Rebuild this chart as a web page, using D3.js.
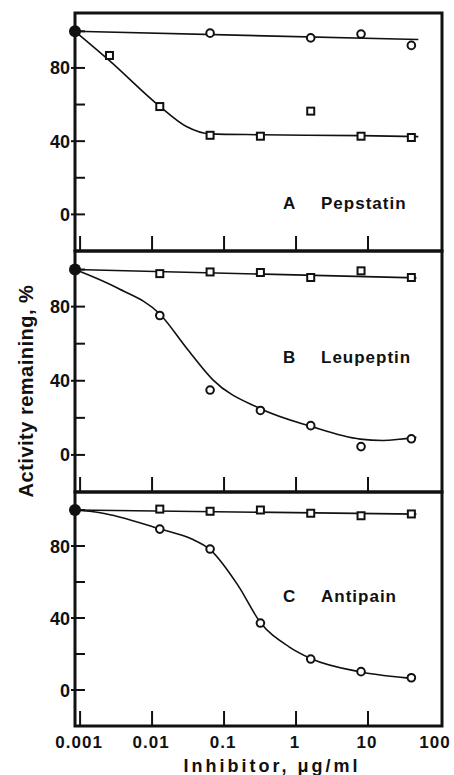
<!DOCTYPE html>
<html>
<head>
<meta charset="utf-8">
<script src="https://cdn.jsdelivr.net/npm/d3@7"></script>
<style>
  body { margin: 0; background: #fff; }
  text { font-family: "Liberation Sans", Arial, sans-serif; font-weight: bold; fill: #111; }
</style>
</head>
<body>
<div id="chart"></div>
<script>
// Chart size
const width = 454;
const height = 775;

// Data
const control = 0.00085; // uninhibited control, drawn on the y axis
const concA = [0.00256, 0.0128, 0.064, 0.32, 1.6, 8, 40];
const conc = [0.0128, 0.064, 0.32, 1.6, 8, 40];

const pepCircleX = [0.064, 1.6, 8, 40];
const pepCircle = [99, 96.4, 98.5, 92.3];
const pepSquare = [86.8, 58.9, 43.2, 42.7, 56.4, 42.7, 42];

const leuSquare = [97.8, 98.7, 98.4, 95.7, 99.3, 95.7];
const leuCircle = [75.2, 35, 24, 15.8, 4.5, 8.7];

const antSquare = [100.5, 99.3, 100, 98.2, 96.8, 97.8];
const antCircle = [89.4, 78.3, 37.2, 17.2, 10.2, 6.8];

// Hand drawn fitted curves
const pepCircleFitX = [control, 50];
const pepCircleFit = [100, 95.5];
const pepSquareFitX = [control, 0.00256, 0.0128, 0.03, 0.064, 0.32, 8, 50];
const pepSquareFit = [100, 84, 59, 48, 44, 43.5, 43, 42.5];

const leuSquareFitX = [control, 47];
const leuSquareFit = [100, 95.5];
const leuCircleFitX = [control, 0.0033, 0.0128, 0.031, 0.07, 0.316, 1.6, 7.8, 16, 47];
const leuCircleFit = [100, 90, 76, 57, 40.5, 25, 15.4, 8.5, 7.8, 9.5];

const antSquareFitX = [control, 47];
const antSquareFit = [100, 97.7];
const antCircleFitX = [control, 0.0019, 0.0128, 0.035, 0.064, 0.157, 0.32, 0.8, 1.6, 8, 45];
const antCircleFit = [100, 98.5, 89.5, 84, 78, 58, 37.5, 24, 17.5, 10, 6.3];

const panelLetters = ["A", "B", "C"];
const panelNames = ["Pepstatin", "Leupeptin", "Antipain"];

const yTicks = [0, 20, 40, 60, 80, 100];
const yLabels = [0, 40, 80];
const xTicks = [0.001, 0.01, 0.1, 1, 10];
const xLabelValues = [0.001, 0.01, 0.1, 1, 10, 100];
const xLabels = ["0.001", "0.01", "0.1", "1", "10", "100"];

const zip = (xs, ys) => xs.map((x, i) => [x, ys[i]]);

const panels = [
  {
    top: 13, bottom: 251, labelY: 209,
    lines: [zip(pepCircleFitX, pepCircleFit), zip(pepSquareFitX, pepSquareFit)],
    circles: zip(pepCircleX, pepCircle),
    squares: zip(concA, pepSquare)
  },
  {
    top: 251, bottom: 492, labelY: 363,
    lines: [zip(leuSquareFitX, leuSquareFit), zip(leuCircleFitX, leuCircleFit)],
    circles: zip(conc, leuCircle),
    squares: zip(conc, leuSquare)
  },
  {
    top: 492, bottom: 726, labelY: 602,
    lines: [zip(antSquareFitX, antSquareFit), zip(antCircleFitX, antCircleFit)],
    circles: zip(conc, antCircle),
    squares: zip(conc, antSquare)
  }
];

const left = 75;
const right = 442;

const svg = d3.select("#chart")
  .append("svg")
  .attr("width", width)
  .attr("height", height);

// Log x scale shared by all panels
const xScale = d3.scaleLog()
  .domain([0.00085, 106.6])
  .range([left, right]);

panels.forEach((p, i) => {
  const yScale = d3.scaleLinear()
    .domain([-20, 110])
    .range([p.bottom, p.top]);

  const g = svg.append("g");

  // y ticks (inward), labelled ones poke out a little
  g.selectAll(".ytick")
    .data(yTicks)
    .enter()
    .append("line")
    .attr("x1", (d) => (yLabels.includes(d) ? left - 4 : left))
    .attr("x2", left + 10)
    .attr("y1", (d) => yScale(d))
    .attr("y2", (d) => yScale(d))
    .attr("stroke", "#111")
    .attr("stroke-width", 2);

  g.selectAll(".ylabel")
    .data(yLabels)
    .enter()
    .append("text")
    .attr("x", left - 5)
    .attr("y", (d) => yScale(d) + 6.5)
    .attr("text-anchor", "end")
    .attr("font-size", 18)
    .text((d) => d);

  // x ticks rise from the panel bottom
  g.selectAll(".xtick")
    .data(xTicks)
    .enter()
    .append("line")
    .attr("x1", (d) => xScale(d))
    .attr("x2", (d) => xScale(d))
    .attr("y1", p.bottom)
    .attr("y2", p.bottom - 15)
    .attr("stroke", "#111")
    .attr("stroke-width", 2);

  // fitted curves
  const line = d3.line()
    .x((d) => xScale(d[0]))
    .y((d) => yScale(d[1]))
    .curve(d3.curveMonotoneX);

  p.lines.forEach((pts) => {
    g.append("path")
      .attr("d", line(pts))
      .attr("fill", "none")
      .attr("stroke", "#111")
      .attr("stroke-width", 1.6);
  });

  // open circles
  g.selectAll(".circle")
    .data(p.circles)
    .enter()
    .append("circle")
    .attr("cx", (d) => xScale(d[0]))
    .attr("cy", (d) => yScale(d[1]))
    .attr("r", 3.8)
    .attr("fill", "#fff")
    .attr("stroke", "#111")
    .attr("stroke-width", 2);

  // open squares
  g.selectAll(".square")
    .data(p.squares)
    .enter()
    .append("rect")
    .attr("x", (d) => xScale(d[0]) - 3.5)
    .attr("y", (d) => yScale(d[1]) - 3.5)
    .attr("width", 7)
    .attr("height", 7)
    .attr("fill", "#fff")
    .attr("stroke", "#111")
    .attr("stroke-width", 2);

  // control point
  g.append("circle")
    .attr("cx", xScale(control))
    .attr("cy", yScale(100))
    .attr("r", 6)
    .attr("fill", "#111");

  // frame
  g.append("rect")
    .attr("x", left)
    .attr("y", p.top)
    .attr("width", right - left)
    .attr("height", p.bottom - p.top)
    .attr("fill", "none")
    .attr("stroke", "#111")
    .attr("stroke-width", 3);

  // panel label
  g.append("text")
    .attr("x", 283)
    .attr("y", p.labelY)
    .attr("font-size", 17)
    .text(panelLetters[i]);

  g.append("text")
    .attr("x", 321)
    .attr("y", p.labelY)
    .attr("font-size", 17)
    .attr("letter-spacing", 1)
    .text(panelNames[i]);
});

// x tick labels under the bottom panel, kept inside the page
svg.selectAll(".xlabel")
  .data(xLabelValues)
  .enter()
  .append("text")
  .attr("x", (d) => Math.min(xScale(d) - 1, width - 19))
  .attr("y", 748)
  .attr("text-anchor", "middle")
  .attr("font-size", 17)
  .attr("letter-spacing", 1)
  .text((d, i) => xLabels[i]);

// axis titles
svg.append("text")
  .attr("x", 272)
  .attr("y", 772)
  .attr("text-anchor", "middle")
  .attr("font-size", 18)
  .attr("letter-spacing", 3)
  .text("Inhibitor, \u03bcg/ml");

svg.append("text")
  .attr("transform", "translate(33, 391) rotate(-90)")
  .attr("text-anchor", "middle")
  .attr("font-size", 20)
  .attr("letter-spacing", 0.5)
  .text("Activity remaining, %");
</script>
</body>
</html>
